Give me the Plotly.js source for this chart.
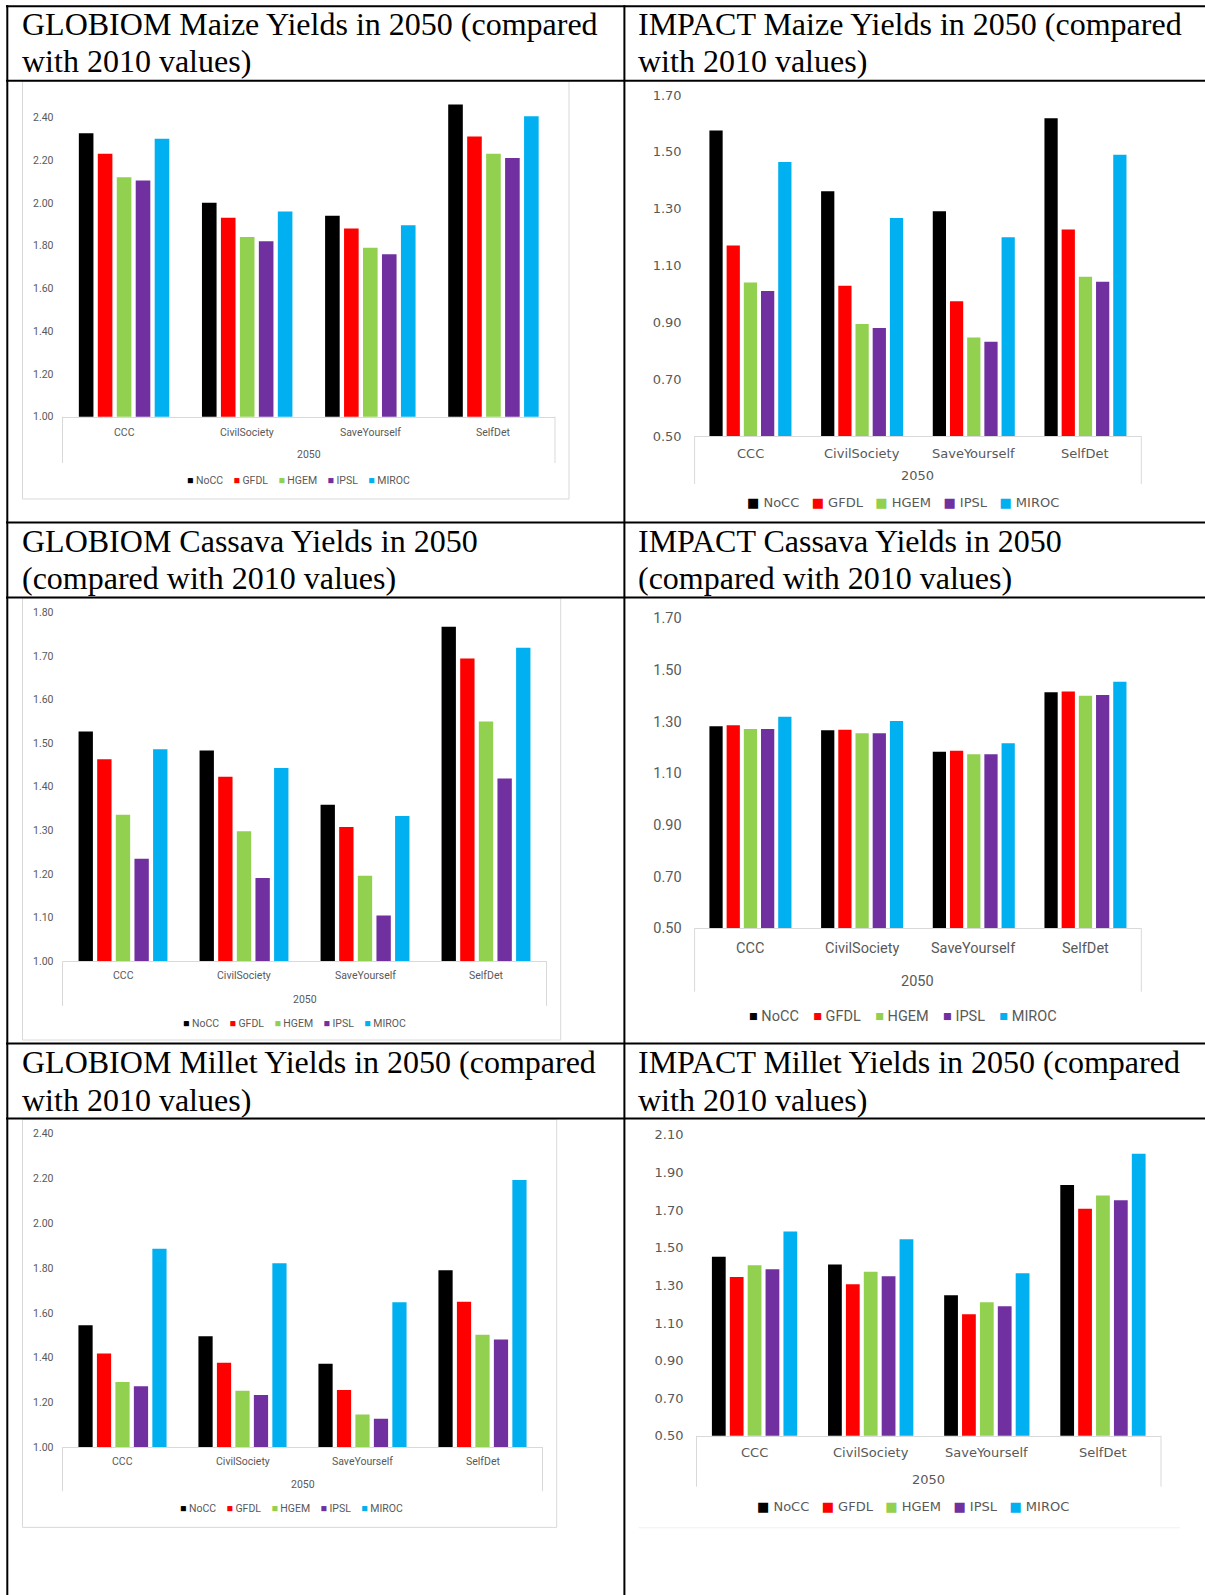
<!DOCTYPE html>
<html>
<head>
<meta charset="utf-8">
<script src="https://cdn.plot.ly/plotly-3.0.1.min.js"></script>
<style>
  html, body { margin: 0; padding: 0; background: #ffffff; }
  #chart { width: 1205px; height: 1595px; }
</style>
</head>
<body>
<div id="chart"></div>
<script>
// ---------- DATA ----------
const categories = ['CCC', 'CivilSociety', 'SaveYourself', 'SelfDet'];
const models = ['NoCC', 'GFDL', 'HGEM', 'IPSL', 'MIROC'];
const modelColors = ['#000000', '#ff0000', '#92d050', '#7030a0', '#00b0f0'];
const axisYearLabel = '2050';

// each row = one model (NoCC, GFDL, HGEM, IPSL, MIROC), columns = categories
const globiomMaize = [
  [2.325, 2.00, 1.94, 2.46],
  [2.23, 1.93, 1.88, 2.31],
  [2.12, 1.84, 1.79, 2.23],
  [2.105, 1.82, 1.76, 2.21],
  [2.30, 1.96, 1.895, 2.405]
];
const impactMaize = [
  [1.575, 1.361, 1.291, 1.618],
  [1.17, 1.029, 0.974, 1.227],
  [1.04, 0.894, 0.847, 1.06],
  [1.01, 0.88, 0.832, 1.043],
  [1.464, 1.267, 1.199, 1.49]
];
const globiomCassava = [
  [1.527, 1.483, 1.359, 1.767],
  [1.463, 1.423, 1.308, 1.694],
  [1.336, 1.298, 1.196, 1.55],
  [1.235, 1.191, 1.105, 1.419],
  [1.486, 1.443, 1.333, 1.719]
];
const impactCassava = [
  [1.281, 1.266, 1.183, 1.413],
  [1.285, 1.268, 1.187, 1.416],
  [1.271, 1.254, 1.173, 1.399],
  [1.271, 1.254, 1.173, 1.402],
  [1.318, 1.302, 1.216, 1.454]
];
const globiomMillet = [
  [1.544, 1.495, 1.372, 1.79],
  [1.418, 1.377, 1.255, 1.65],
  [1.291, 1.252, 1.146, 1.502],
  [1.272, 1.233, 1.127, 1.481],
  [1.886, 1.821, 1.647, 2.193]
];
const impactMillet = [
  [1.452, 1.411, 1.247, 1.833],
  [1.345, 1.306, 1.146, 1.707],
  [1.407, 1.372, 1.21, 1.778],
  [1.385, 1.349, 1.189, 1.752],
  [1.586, 1.545, 1.364, 2.0]
];

const titles = [
  ['GLOBIOM Maize Yields in 2050 (compared', 'with 2010 values)'],
  ['IMPACT Maize Yields in 2050 (compared', 'with 2010 values)'],
  ['GLOBIOM Cassava Yields in 2050', '(compared with 2010 values)'],
  ['IMPACT Cassava Yields in 2050', '(compared with 2010 values)'],
  ['GLOBIOM Millet Yields in 2050 (compared', 'with 2010 values)'],
  ['IMPACT Millet Yields in 2050 (compared', 'with 2010 values)']
];

// ---------- LAYOUT (pixel geometry) ----------
const W = 1205, H = 1595;
const fx = p => p / W;
const fy = p => 1 - p / H;

const fontG = { family: 'Roboto, Arial, sans-serif', size: 10.5, color: '#595959' };
const fontI = { family: 'DejaVu Sans, sans-serif', size: 13, color: '#595959' };
const fontIC = { family: 'Roboto, Arial, sans-serif', size: 14.5, color: '#595959' };

const charts = [
  { data: globiomMaize, x0: 62.5, x1: 555, yMinPx: 416.7, yMin: 1.0, yLabPx: 117.3, yLab: 2.4, yMax: 2.5, dtick: 0.2,
    catY: 432, ySO: 8, yrY: 454, legY: 480, legX: 298, legGap: 4, lineBot: 463, font: fontG,
    box: [22.5, 81, 569, 499], titleX: 19.5, titleY: [36.5, 73.5] },
  { data: impactMaize, x0: 694.6, x1: 1141.3, yMinPx: 436, yMin: 0.5, yLabPx: 95, yLab: 1.7, yMax: 1.7, dtick: 0.2,
    catY: 453, ySO: 12, yrY: 476, legY: 502, legX: 903, legGap: 3, lineBot: 484, font: fontI,
    box: null, titleX: 635.6, titleY: [36.5, 73.5] },
  { data: globiomCassava, x0: 62.5, x1: 546.5, yMinPx: 961.2, yMin: 1.0, yLabPx: 612.4, yLab: 1.8, yMax: 1.8, dtick: 0.1,
    catY: 975.8, ySO: 8, yrY: 999.1, legY: 1023.8, legX: 294, legGap: 4, lineBot: 1005.9, font: fontG,
    box: [22.5, 598, 560.7, 1040], titleX: 19.5, titleY: [553.5, 590.3] },
  { data: impactCassava, x0: 694.6, x1: 1141.3, yMinPx: 928.1, yMin: 0.5, yLabPx: 618.1, yLab: 1.7, yMax: 1.7, dtick: 0.2,
    catY: 948.7, ySO: 12, yrY: 981.5, legY: 1016, legX: 903, legGap: 4, lineBot: 991.7, font: fontIC,
    box: null, titleX: 635.6, titleY: [553.5, 590.3] },
  { data: globiomMillet, x0: 62.5, x1: 542.5, yMinPx: 1447.1, yMin: 1.0, yLabPx: 1133.8, yLab: 2.4, yMax: 2.4, dtick: 0.2,
    catY: 1461.6, ySO: 8, yrY: 1484.2, legY: 1508.3, legX: 291.5, legGap: 4, lineBot: 1491.3, font: fontG,
    box: [22.5, 1119.3, 556.7, 1527.4], titleX: 19.5, titleY: [1074.5, 1111.7] },
  { data: impactMillet, x0: 696.5, x1: 1161, yMinPx: 1435.8, yMin: 0.5, yLabPx: 1134.9, yLab: 2.1, yMax: 2.1, dtick: 0.2,
    catY: 1452.7, ySO: 12, yrY: 1479, legY: 1506.5, legX: 913, legGap: 3, lineBot: 1486.7, font: fontI,
    box: null, titleX: 635.6, titleY: [1074.5, 1111.7] }
];

const traces = [];
const layout = {
  width: W, height: H,
  margin: { l: 0, r: 0, t: 0, b: 0 },
  paper_bgcolor: '#ffffff', plot_bgcolor: 'rgba(0,0,0,0)',
  barmode: 'group', bargap: 0.23, bargroupgap: 0.23,
  showlegend: false, hovermode: false,
  shapes: [], annotations: []
};

const titleFont = { family: 'Liberation Serif, Times New Roman, serif', size: 32, color: '#000000' };
const titleDescent = 0.216 * 32 + 1;

charts.forEach((c, i) => {
  const k = i + 1;
  const xn = 'x' + (k > 1 ? k : '');
  const yn = 'y' + (k > 1 ? k : '');
  const ppu = (c.yMinPx - c.yLabPx) / (c.yLab - c.yMin);
  const topMax = c.yMax + 1e-6;
  const topPx = c.yMinPx - (topMax - c.yMin) * ppu;

  c.data.forEach((vals, m) => {
    traces.push({
      type: 'bar', x: categories, y: vals, name: models[m],
      marker: { color: modelColors[m], line: { width: 0 } },
      xaxis: xn, yaxis: yn, showlegend: false
    });
  });

  layout['xaxis' + (k > 1 ? k : '')] = {
    domain: [fx(c.x0), fx(c.x1)], anchor: yn, type: 'category',
    categoryorder: 'array', categoryarray: categories,
    showline: true, linecolor: '#d9d9d9', linewidth: 1,
    ticks: '', showgrid: false, zeroline: false, showticklabels: false,
    fixedrange: true
  };
  layout['yaxis' + (k > 1 ? k : '')] = {
    domain: [fy(c.yMinPx), fy(topPx)], anchor: xn,
    range: [c.yMin, topMax], tick0: c.yMin, dtick: c.dtick, tickformat: '.2f',
    showline: false, showgrid: false, zeroline: false, ticks: '',
    tickfont: c.font, ticklabelstandoff: c.ySO, fixedrange: true
  };

  // category labels placed on the category axis scale
  categories.forEach(cat => {
    layout.annotations.push({ xref: xn, yref: 'paper', x: cat, y: fy(c.catY),
      xanchor: 'center', yanchor: 'middle', showarrow: false, text: cat, font: c.font });
  });

  // multi-level category axis frame lines
  [c.x0, c.x1].forEach(xp => {
    layout.shapes.push({ type: 'line', xref: 'paper', yref: 'paper',
      x0: fx(xp), x1: fx(xp), y0: fy(c.yMinPx), y1: fy(c.lineBot),
      line: { color: '#d9d9d9', width: 1 } });
  });
  if (c.box) {
    layout.shapes.push({ type: 'rect', xref: 'paper', yref: 'paper', layer: 'below',
      x0: fx(c.box[0]), x1: fx(c.box[2]), y0: fy(c.box[3]), y1: fy(c.box[1]),
      line: { color: '#d9d9d9', width: 1 }, fillcolor: 'rgba(0,0,0,0)' });
  }

  // "2050" group label
  layout.annotations.push({ xref: 'paper', yref: 'paper', x: fx((c.x0 + c.x1) / 2), y: fy(c.yrY),
    xanchor: 'center', yanchor: 'middle', showarrow: false, text: axisYearLabel, font: c.font });

  // legend line built from model names / colours
  const gap = '&nbsp;'.repeat(c.legGap);
  const legText = models.map((m, j) => '<span style="color:' + modelColors[j] + '">■</span> ' + m).join(gap);
  layout.annotations.push({ xref: 'paper', yref: 'paper', x: fx(c.legX), y: fy(c.legY),
    xanchor: 'center', yanchor: 'middle', showarrow: false, text: legText, font: c.font });

  // cell title (two lines)
  titles[i].forEach((t, li) => {
    layout.annotations.push({ xref: 'paper', yref: 'paper', x: fx(c.titleX), y: fy(c.titleY[li] + titleDescent),
      xanchor: 'left', yanchor: 'bottom', showarrow: false, text: t, font: titleFont });
  });
});

// faint bottom border of IMPACT millet chart area
layout.shapes.push({ type: 'line', xref: 'paper', yref: 'paper',
  x0: fx(638.7), x1: fx(1180), y0: fy(1527.8), y1: fy(1527.8), line: { color: '#f0f0f0', width: 1 } });

// table grid
[6.2, 80.7, 522.4, 597.5, 1043.4, 1118.5].forEach(yp => {
  layout.shapes.push({ type: 'line', xref: 'paper', yref: 'paper',
    x0: fx(6), x1: 1, y0: fy(yp), y1: fy(yp), line: { color: '#000000', width: 2 } });
});
[7.3, 624.4].forEach(xp => {
  layout.shapes.push({ type: 'line', xref: 'paper', yref: 'paper',
    x0: fx(xp), x1: fx(xp), y0: fy(5.2), y1: 0, line: { color: '#000000', width: 2 } });
});

Plotly.newPlot('chart', traces, layout, { staticPlot: true, displayModeBar: false });
</script>
</body>
</html>
